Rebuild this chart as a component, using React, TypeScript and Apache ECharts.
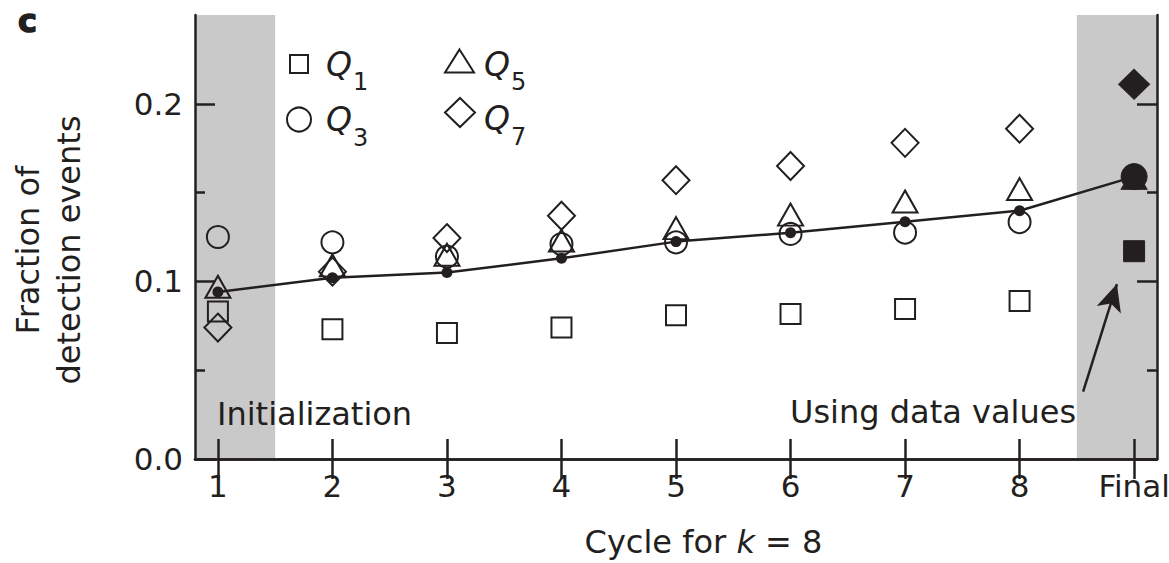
import React, { useEffect, useRef } from "react";
import * as echarts from "echarts";

// ---- data ----
const CYCLE_POS = [1, 2, 3, 4, 5, 6, 7, 8, 9];
const CYCLE_LABELS = ["1", "2", "3", "4", "5", "6", "7", "8", "Final"];
const Y_MAJOR = [0, 0.1, 0.2];
const Y_MINOR = [0.05, 0.15];
const Q1 = [0.083, 0.073, 0.071, 0.074, 0.081, 0.0816, 0.0845, 0.089, 0.117];
const Q3 = [0.125, 0.122, 0.114, 0.121, 0.122, 0.1267, 0.1275, 0.1334, 0.159];
const Q5 = [0.097, 0.109, 0.115, 0.123, 0.13, 0.1376, 0.145, 0.152, 0.158];
const Q7 = [0.074, 0.1055, 0.1244, 0.137, 0.157, 0.165, 0.178, 0.186, 0.211];
const MEAN = [0.094, 0.102, 0.105, 0.113, 0.1224, 0.1274, 0.1336, 0.1398, 0.159];
const SHADE_INIT = [0.8, 1.5];
const SHADE_FINAL = [8.5, 9.2];
const ARROW_FROM = [8.555, 0.038];
const ARROW_TO = [8.85, 0.0985];

const INK = "#231f20";
const SHADE = "#c9c9c9";
const FONT = '"DejaVu Sans", "Liberation Sans", sans-serif';

function markerSeries(name: string, symbol: string, size: any, finalSize: any, values: number[]) {
  return {
    name,
    type: "scatter",
    symbol,
    symbolSize: size,
    z: 3,
    silent: true,
    itemStyle: { color: "rgba(0,0,0,0)", borderColor: INK, borderWidth: 2, opacity: 1 },
    data: values.map((v, i) =>
      i === values.length - 1
        ? { value: [CYCLE_POS[i], v], symbolSize: finalSize, itemStyle: { color: INK, borderColor: INK, borderWidth: 1, opacity: 1 } }
        : [CYCLE_POS[i], v]
    ),
  };
}

function legendFor(name: string, left: number, top: number, w: number, h: number, qPad: number, gap: number) {
  const sub = name.slice(1);
  return {
    data: [name],
    left,
    top,
    itemWidth: w,
    itemHeight: h,
    padding: 0,
    selectedMode: false,
    symbolKeepAspect: false,
    itemStyle: { color: "rgba(0,0,0,0)", borderColor: INK, borderWidth: 2, opacity: 1 },
    formatter: () => `{q|Q}{s|${sub}}`,
    textStyle: {
      color: INK,
      rich: {
        q: { fontFamily: FONT, fontStyle: "italic", fontSize: 33, color: INK, padding: [qPad, 0, 0, gap] },
        s: { fontFamily: FONT, fontSize: 24, color: INK, padding: [36 + qPad, 0, 0, 1] },
      },
    },
  };
}

function axisLine() {
  return { show: true, lineStyle: { color: INK, width: 2.5 } };
}

export default function App() {
  const ref = useRef<HTMLDivElement>(null);
  useEffect(() => {
    if (!ref.current) return;
    const chart = echarts.init(ref.current, null, { renderer: "svg" });
    const option: any = {
      animation: false,
      grid: { left: 195, right: 12, top: 15, bottom: 104, containLabel: false, outerBoundsMode: "none" },
      legend: [
        legendFor("Q1", 289, 47.5, 18, 18, 0, 13),
        legendFor("Q3", 286, 103, 24, 24, 0, 10),
        legendFor("Q5", 444, 47.5, 29, 23, 6, 5),
        legendFor("Q7", 444, 97, 30, 29, 12, 4),
      ],
      xAxis: [
        {
          type: "value",
          position: "bottom",
          min: 0.8,
          max: 9.2,
          z: 5,
          axisLine: axisLine(),
          splitLine: { show: false },
          axisTick: { show: true, inside: true, length: 20, customValues: CYCLE_POS, lineStyle: { color: INK, width: 2.5 } },
          axisLabel: {
            customValues: CYCLE_POS,
            formatter: (v: number) => CYCLE_LABELS[CYCLE_POS.indexOf(Math.round(v))] ?? "",
            fontFamily: FONT,
            fontSize: 31,
            color: INK,
            margin: 11,
          },
          name: "{n|Cycle for }{i|k}{n| = 8}",
          nameLocation: "middle",
          nameGap: 67,
          nameTextStyle: {
            padding: [0, 0, 0, 55],
            rich: {
              n: { fontFamily: FONT, fontSize: 32, color: INK },
              i: { fontFamily: FONT, fontSize: 32, color: INK, fontStyle: "italic" },
            },
          },
        },
        {
          type: "value",
          position: "top",
          min: 0.8,
          max: 9.2,
          z: 5,
          axisLine: axisLine(),
          splitLine: { show: false },
          axisTick: { show: true, inside: true, length: 20, customValues: CYCLE_POS, lineStyle: { color: INK, width: 2.5 } },
          axisLabel: { show: false },
        },
      ],
      yAxis: [
        {
          type: "value",
          position: "left",
          min: 0,
          max: 0.25,
          z: 5,
          axisLine: axisLine(),
          splitLine: { show: false },
          axisTick: { show: true, inside: true, length: 20, customValues: Y_MAJOR, lineStyle: { color: INK, width: 2.5 } },
          axisLabel: {
            customValues: Y_MAJOR,
            formatter: (v: number) => v.toFixed(1),
            fontFamily: FONT,
            fontSize: 31,
            color: INK,
            margin: 12,
          },
          name: "Fraction of\ndetection events",
          nameLocation: "middle",
          nameGap: 106,
          nameTextStyle: { fontFamily: FONT, fontSize: 32, lineHeight: 41, color: INK, padding: [0, 26, 0, 0] },
        },
        {
          type: "value",
          position: "left",
          min: 0,
          max: 0.25,
          z: 5,
          axisLine: { show: false },
          splitLine: { show: false },
          axisTick: { show: true, inside: true, length: 10, customValues: Y_MINOR, lineStyle: { color: INK, width: 2.5 } },
          axisLabel: { show: false },
        },
        {
          type: "value",
          position: "right",
          min: 0,
          max: 0.25,
          z: 5,
          axisLine: axisLine(),
          splitLine: { show: false },
          axisTick: { show: true, inside: true, length: 20, customValues: Y_MAJOR, lineStyle: { color: INK, width: 2.5 } },
          axisLabel: { show: false },
        },
        {
          type: "value",
          position: "right",
          min: 0,
          max: 0.25,
          z: 5,
          axisLine: { show: false },
          splitLine: { show: false },
          axisTick: { show: true, inside: true, length: 10, customValues: Y_MINOR, lineStyle: { color: INK, width: 2.5 } },
          axisLabel: { show: false },
        },
      ],
      series: [
        {
          type: "line",
          data: [],
          z: 1,
          silent: true,
          markArea: {
            silent: true,
            itemStyle: { color: SHADE, opacity: 1 },
            data: [
              [{ xAxis: SHADE_INIT[0] }, { xAxis: SHADE_INIT[1] }],
              [{ xAxis: SHADE_FINAL[0] }, { xAxis: SHADE_FINAL[1] }],
            ],
          },
          markLine: {
            silent: true,
            symbol: ["none", "arrow"],
            lineStyle: { color: INK, width: 2.5, type: "solid", opacity: 1 },
            itemStyle: { color: INK },
            label: { show: false },
            data: [
              [
                { coord: ARROW_FROM, symbol: "none" },
                { coord: ARROW_TO, symbol: "arrow", symbolSize: [19, 27] },
              ],
            ],
          },
        },
        markerSeries("Q1", "rect", 20, 21, Q1),
        markerSeries("Q3", "circle", 22, 26, Q3),
        markerSeries("Q5", "triangle", [25, 22], [26, 22], Q5),
        markerSeries("Q7", "diamond", [27, 28], [31, 30], Q7),
        {
          type: "line",
          z: 4,
          silent: true,
          data: MEAN.map((v, i) => [CYCLE_POS[i], v]),
          symbol: "circle",
          symbolSize: 11,
          itemStyle: { color: INK, opacity: 1 },
          lineStyle: { color: INK, width: 2.5 },
        },
      ],
      graphic: [
        {
          type: "text",
          x: 18,
          y: 21,
          style: {
            text: "c",
            font: `bold 32px ${FONT}`,
            fill: INK,
            stroke: INK,
            lineWidth: 1.5,
            align: "left",
            verticalAlign: "middle",
            textAlign: "left",
            textVerticalAlign: "middle",
          },
        },
        {
          type: "text",
          x: 217,
          y: 414,
          z: 10,
          style: { text: "Initialization", font: `32px ${FONT}`, fill: INK, align: "left", verticalAlign: "middle", textAlign: "left", textVerticalAlign: "middle" },
        },
        {
          type: "text",
          x: 790,
          y: 412,
          z: 10,
          style: { text: "Using data values", font: `32px ${FONT}`, fill: INK, align: "left", verticalAlign: "middle", textAlign: "left", textVerticalAlign: "middle" },
        },
      ],
    };
    chart.setOption(option);
    return () => chart.dispose();
  }, []);
  return <div ref={ref} style={{ position: "absolute", left: 0, top: 0, width: 1169, height: 563 }} />;
}
